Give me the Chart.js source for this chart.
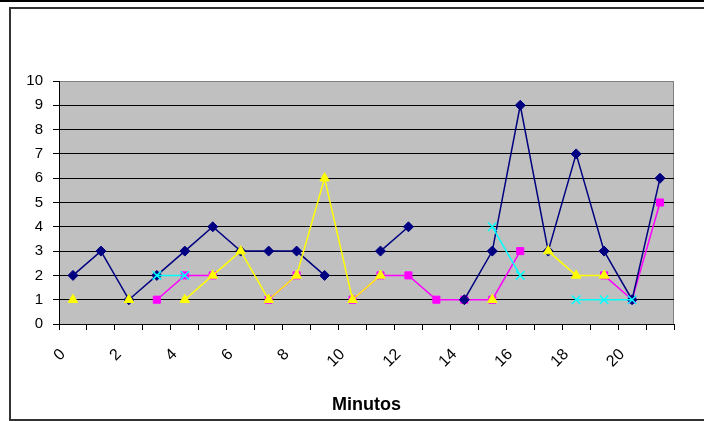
<!DOCTYPE html>
<html>
<head>
<meta charset="utf-8">
<script src="https://cdn.jsdelivr.net/npm/chart.js@4"></script>
<style>
  html, body { margin: 0; padding: 0; background: #fff; }
  #wrap { position: relative; width: 704px; height: 421px; overflow: hidden; }
  .topline { position: absolute; left: 0; top: 0; width: 704px; height: 2px; background: #000; }
  .frame { position: absolute; left: 9px; top: 7px; width: 800px; height: 410px; border: 2px solid #333; }
  canvas { position: absolute; left: 0; top: 0; }
</style>
</head>
<body>
<div id="wrap">
  <div class="topline"></div>
  <div class="frame"></div>
  <canvas id="chart" width="704" height="421"></canvas>
</div>
<script>
// categories (minutes)
const minutos = ['0','1','2','3','4','5','6','7','8','9','10','11','12','13','14','15','16','17','18','19','20','21']

// series values (null = no point)
const serieAzul = [2, 3, 1, 2, 3, 4, 3, 3, 3, 2, null, 3, 4, null, 1, 3, 9, 3, 7, 3, 1, 6]
const serieRosa = [null, null, null, 1, 2, 2, null, 1, 2, null, 1, 2, 2, 1, 1, 1, 3, null, null, 2, 1, 5]
const serieAmarela = [1, null, 1, null, 1, 2, 3, 1, 2, 6, 1, 2, null, null, null, 1, null, 3, 2, 2, null, null]
const serieCiano = [null, null, null, 2, 2, null, null, null, null, null, null, null, null, null, null, 4, 2, null, 1, 1, 1, null]

const FONT = "'Liberation Sans', Arial, sans-serif"

// gray plot area with a darker border, Excel style
const plotBackground = {
  id: 'plotBackground',
  beforeDraw(chart) {
    const { ctx, chartArea: a } = chart
    ctx.save()
    ctx.fillStyle = '#C0C0C0'
    ctx.fillRect(a.left, a.top, a.right - a.left, a.bottom - a.top)
    ctx.strokeStyle = '#808080'
    ctx.lineWidth = 1
    ctx.beginPath()
    ctx.moveTo(a.left, a.top + 0.5)
    ctx.lineTo(a.right - 0.5, a.top + 0.5)
    ctx.lineTo(a.right - 0.5, a.bottom)
    ctx.stroke()
    ctx.restore()
  }
}

function serie(label, data, color, style, radius, order) {
  return {
    label,
    data,
    order,
    borderColor: color,
    backgroundColor: color,
    borderWidth: 1.5,
    pointStyle: style,
    pointRadius: radius,
    pointHoverRadius: radius,
    pointBorderWidth: style === 'crossRot' ? 1.5 : 1,
    tension: 0,
    spanGaps: false
  }
}

new Chart(document.getElementById('chart'), {
  type: 'line',
  data: {
    labels: minutos,
    datasets: [
      serie('Série 1', serieAzul, '#000080', 'rectRot', 5, 3),
      serie('Série 2', serieRosa, '#FF00FF', 'rect', 5, 4),
      serie('Série 3', serieAmarela, '#FFFF00', 'triangle', 5.5, 2),
      serie('Série 4', serieCiano, '#00FFFF', 'crossRot', 6, 1)
    ]
  },
  options: {
    responsive: false,
    animation: false,
    devicePixelRatio: 1,
    layout: { padding: { top: 81, right: 30, left: 0, bottom: 0 } },
    plugins: {
      legend: { display: false },
      tooltip: { enabled: false }
    },
    scales: {
      x: {
        offset: true,
        afterFit: s => { s.height = 97 },
        grid: {
          offset: true,
          drawOnChartArea: false,
          drawTicks: true,
          tickLength: 6,
          tickColor: '#000'
        },
        border: { display: true, color: '#000', width: 1 },
        ticks: {
          autoSkip: false,
          minRotation: 45,
          maxRotation: 45,
          labelOffset: -10,
          padding: 15,
          color: '#000',
          font: { family: FONT, size: 16 },
          callback: (v, i) => (i % 2 === 0 ? minutos[i] : '')
        },
        title: {
          display: true,
          text: 'Minutos',
          color: '#000',
          font: { family: FONT, size: 18, weight: 'bold' },
          padding: { top: 0, bottom: 5 }
        }
      },
      y: {
        min: 0,
        max: 10,
        afterFit: s => { s.width = 59 },
        grid: {
          color: c => (c.tick && c.tick.value === 10 ? '#808080' : '#000'),
          tickColor: '#000',
          tickLength: 6,
          lineWidth: 1
        },
        border: { display: true, color: '#000', width: 1 },
        ticks: {
          stepSize: 1,
          padding: 10,
          color: '#000',
          font: { family: FONT, size: 15 }
        }
      }
    }
  },
  plugins: [plotBackground]
})
</script>
</body>
</html>
